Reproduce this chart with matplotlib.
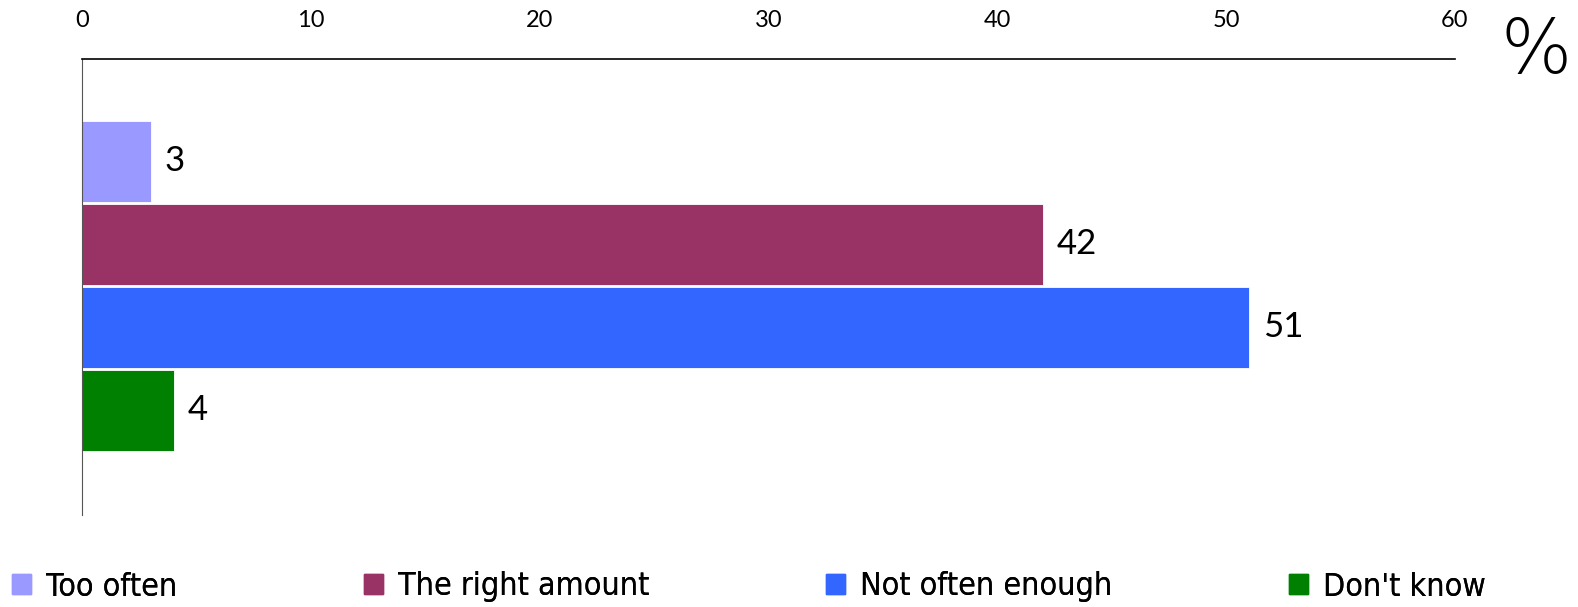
import matplotlib.pyplot as plt
import matplotlib.patches as mpatches
from matplotlib import font_manager

labels = ["Too often", "The right amount", "Not often enough", "Don't know"]
values = [3, 42, 51, 4]
colors = ["#9999FF", "#993366", "#3366FF", "#008000"]
xticks = [0, 10, 20, 30, 40, 50, 60]

names = sorted({f.name for f in font_manager.fontManager.ttflist})
narrow = "Liberation Sans Narrow" if "Liberation Sans Narrow" in names else "DejaVu Sans"

W, H = 1578, 607
fig = plt.figure(figsize=(W / 100, H / 100), dpi=100)
ax = fig.add_axes([82 / W, 1 - 515 / H, (1455 - 82) / W, (515 - 59) / H])

pos = list(range(len(values)))
bars = ax.barh(pos, values, height=0.98, color=colors, edgecolor="white", linewidth=0.6)
ax.bar_label(bars, labels=[str(v) for v in values], padding=10,
             fontsize=25, family=["Lato", "DejaVu Sans"])

ax.set_ylim(4.26, -1.235)
ax.set_xlim(0, 60)
ax.set_xticks(xticks)
ax.xaxis.tick_top()
ax.tick_params(axis="x", length=0, pad=20, labelsize=17)
for t in ax.get_xticklabels():
    t.set_family(["Lato", "DejaVu Sans"])
ax.set_yticks([])
ax.spines["right"].set_visible(False)
ax.spines["bottom"].set_visible(False)
ax.spines["top"].set_linewidth(1.2)
ax.spines["left"].set_color("#555555")

fig.text(1536 / W, 1 - 52 / H, "%", fontsize=54, ha="center", va="center",
         family=["DejaVu Sans"], fontweight="light")

# legend entries placed one by one, like the original
leg_x = [12, 364, 826, 1289]
for x, lab, col in zip(leg_x, labels, colors):
    h = mpatches.Patch(color=col, label=lab)
    leg = fig.legend(handles=[h], loc="center left", bbox_to_anchor=(x / W, 1 - 587 / H),
                     frameon=False, handlelength=0.6, handleheight=0.6, handletextpad=0.45,
                     borderpad=0, borderaxespad=0,
                     prop={"family": [narrow, "DejaVu Sans"], "size": 23,
                           "stretch": "condensed"})
    fig.add_artist(leg)

fig.savefig("out.png", dpi=100)
